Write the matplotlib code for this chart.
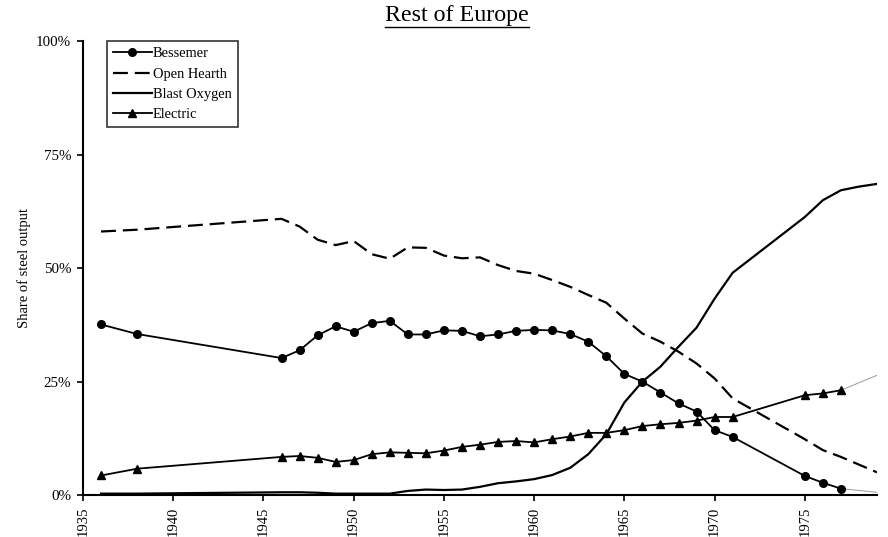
import matplotlib
matplotlib.use("Agg")
import matplotlib.pyplot as plt
from matplotlib.lines import Line2D
from matplotlib.ticker import FuncFormatter

plt.rcParams['font.family'] = ['Liberation Serif', 'DejaVu Serif']

title = "Rest of Europe"
ylabel = "Share of steel output"

years = [1936, 1938, 1946, 1947, 1948, 1949, 1950, 1951, 1952, 1953, 1954, 1955,
         1956, 1957, 1958, 1959, 1960, 1961, 1962, 1963, 1964, 1965, 1966, 1967,
         1968, 1969, 1970, 1971, 1975, 1976, 1977]

bessemer = [37.6, 35.5, 30.2, 31.9, 35.2, 37.2, 36.0, 37.9, 38.4, 35.4, 35.4, 36.3,
            36.2, 35.0, 35.4, 36.2, 36.4, 36.3, 35.5, 33.8, 30.6, 26.7, 25.0, 22.6,
            20.2, 18.4, 14.3, 12.8, 4.2, 2.7, 1.4]

electric = [4.3, 5.8, 8.4, 8.6, 8.2, 7.3, 7.7, 9.0, 9.4, 9.3, 9.2, 9.8,
            10.6, 11.1, 11.7, 11.9, 11.6, 12.3, 12.9, 13.7, 13.7, 14.3, 15.2, 15.6,
            15.9, 16.4, 17.2, 17.2, 22.0, 22.4, 23.1]

years_ext = years + [1978, 1979]

open_hearth = [58.1, 58.5, 60.9, 59.2, 56.3, 55.1, 56.0, 53.1, 52.1, 54.6, 54.5, 52.8,
               52.2, 52.4, 50.7, 49.4, 48.8, 47.4, 45.9, 44.1, 42.4, 38.9, 35.6, 33.8,
               31.6, 29.0, 25.7, 21.3, 12.3, 9.9, 8.4, 6.7, 5.0]

blast_oxygen = [0.3, 0.3, 0.6, 0.6, 0.5, 0.3, 0.3, 0.3, 0.3, 0.9, 1.2, 1.1,
                1.2, 1.8, 2.6, 3.0, 3.5, 4.4, 6.0, 9.0, 13.4, 20.4, 25.0, 28.3,
                32.7, 36.9, 43.3, 49.0, 61.3, 65.0, 67.2, 68.0, 68.6]

tail_years = [1977, 1979]
bessemer_tail = [1.4, 0.6]
electric_tail = [23.1, 26.4]

yticks = [0, 25, 50, 75, 100]
xticks = [1935, 1940, 1945, 1950, 1955, 1960, 1965, 1970, 1975]

fig = plt.figure(figsize=(8.88, 5.37), dpi=100)
ax = fig.add_axes([83/888, 1-495/537, (877-83)/888, (495-41.5)/537])

ax.plot(tail_years, bessemer_tail, color='#999999', lw=0.7)
ax.plot(tail_years, electric_tail, color='#999999', lw=0.7)

l1, = ax.plot(years, bessemer, color='black', lw=1.3, marker='o', markersize=5.5,
              label='Bessemer')
l2, = ax.plot(years_ext, open_hearth, color='black', lw=1.6, dashes=(6.7, 3.1),
              label='Open Hearth')
l3, = ax.plot(years_ext, blast_oxygen, color='black', lw=1.6, label='Blast Oxygen')
l4, = ax.plot(years, electric, color='black', lw=1.3, marker='^', markersize=5.5,
              label='Electric')

ax.set_xlim(1935, 1979)
ax.set_ylim(0, 100)
ax.set_xticks(xticks)
ax.set_xticklabels([str(x) for x in xticks], rotation=90, fontsize=10.5)
ax.set_yticks(yticks)
ax.yaxis.set_major_formatter(FuncFormatter(lambda v, p: f"{int(v)}%"))
ax.tick_params(axis='both', direction='out', length=4.5, width=1.2, labelsize=10.8,
               pad=4)
ax.tick_params(axis='x', labelsize=10.5)
for s in ['top', 'right']:
    ax.spines[s].set_visible(False)
for s in ['left', 'bottom']:
    ax.spines[s].set_linewidth(1.5)

ax.set_ylabel(ylabel, fontsize=10.5, labelpad=4)

leg = ax.legend(handles=[l1, l2, l3, l4], loc='upper left',
                bbox_to_anchor=(0.03, 1.0), borderaxespad=0, fontsize=10.4,
                frameon=True, fancybox=False, edgecolor='black',
                handlelength=2.7, handletextpad=0.1, labelspacing=0.5,
                borderpad=0.4)
leg.get_frame().set_linewidth(1.2)

t = fig.text(457/888, 1-21/537, title, ha='center', va='baseline', fontsize=17.3)
fig.canvas.draw()
bb = t.get_window_extent()
y_ul = bb.y0 - 1
fig.add_artist(Line2D([bb.x0/888, bb.x1/888], [y_ul/537, y_ul/537],
                      transform=fig.transFigure, color='black', lw=1.0))

fig.savefig("out.png", dpi=100)
